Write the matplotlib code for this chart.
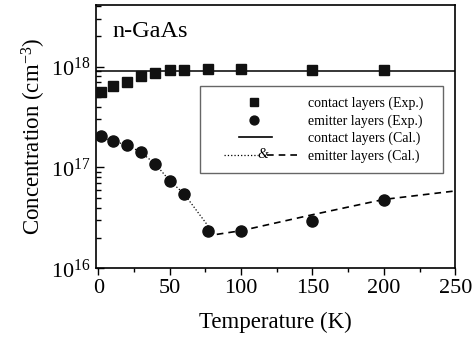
import matplotlib
matplotlib.use("Agg")
import matplotlib.pyplot as plt
from matplotlib.lines import Line2D
from matplotlib.text import Text
from matplotlib.legend_handler import HandlerBase
from matplotlib.ticker import MultipleLocator, LogLocator, NullFormatter

plt.rcParams['font.family'] = ['Liberation Serif', 'DejaVu Serif']
plt.rcParams['mathtext.fontset'] = 'custom'
plt.rcParams['mathtext.rm'] = 'Liberation Serif'
plt.rcParams['mathtext.it'] = 'Liberation Serif:italic'

# experimental points
temp_exp = [2, 10, 20, 30, 40, 50, 60, 77, 100, 150, 200]
contact_exp = [5.6e17, 6.4e17, 7.1e17, 8.1e17, 8.7e17, 9.2e17, 9.3e17, 9.4e17, 9.4e17, 9.2e17, 9.2e17]
emitter_exp = [2.03e17, 1.82e17, 1.68e17, 1.41e17, 1.08e17, 7.4e16, 5.5e16, 2.33e16, 2.35e16, 2.97e16, 4.75e16]

# calculated curves
contact_cal = 9.0e17
temp_dot = [2, 10, 20, 30, 40, 50, 60, 81]
emitter_dot = [2.03e17, 1.82e17, 1.68e17, 1.41e17, 1.08e17, 7.4e16, 5.5e16, 2.2e16]
temp_dash = [83, 100, 150, 200, 250]
emitter_dash = [2.17e16, 2.36e16, 3.4e16, 4.82e16, 5.85e16]


class ShortLine(HandlerBase):
    def create_artists(self, legend, orig, xd, yd, w, h, fs, trans):
        y = h / 2 - yd
        ln = Line2D([0.33 * w - xd, 0.71 * w - xd], [y, y], color='black', lw=1.2)
        ln.set_transform(trans)
        return [ln]


class DotAndDash(HandlerBase):
    def create_artists(self, legend, orig, xd, yd, w, h, fs, trans):
        y = h / 2 - yd
        a = Line2D([0.16 * w - xd, 0.54 * w - xd], [y, y], color='black', lw=0.9, ls=':')
        b = Line2D([0.645 * w - xd, w - xd], [y, y], color='black', lw=1.2, ls=(0, (4, 3)))
        t = Text(0.595 * w - xd, y, '&', ha='center', va='center', fontsize=fs,
                 family='Liberation Serif', style='italic')
        for art in (a, b, t):
            art.set_transform(trans)
        return [a, b, t]


fig = plt.figure(figsize=(4.72, 3.43), dpi=100)
ax = fig.add_axes([0.2034, 0.2178, 0.761, 0.768])
ax.set_yscale('log')

sq, = ax.plot(temp_exp, contact_exp, 's', color='#111111', ms=7.2, ls='none', zorder=4)
ci, = ax.plot(temp_exp, emitter_exp, 'o', color='#111111', ms=8, ls='none', zorder=4)
hl = ax.axhline(contact_cal, color='black', lw=1.1)
dl, = ax.plot(temp_dot, emitter_dot, ':', color='black', lw=0.9)
dsh, = ax.plot(temp_dash, emitter_dash, color='black', lw=1.2, ls=(0, (4, 3)))

ax.set_xlim(-1.6, 250)
ax.set_ylim(1e16, 4.1e18)

ax.xaxis.set_major_locator(MultipleLocator(50))
ax.xaxis.set_minor_locator(MultipleLocator(25))
ax.yaxis.set_major_locator(LogLocator(base=10, numticks=10))
ax.yaxis.set_minor_locator(LogLocator(base=10, subs=range(2, 10), numticks=20))
ax.yaxis.set_minor_formatter(NullFormatter())

ax.tick_params(axis='x', which='major', direction='out', length=5, width=1, labelsize=16, pad=3)
ax.tick_params(axis='x', which='minor', direction='out', length=3, width=1)
ax.tick_params(axis='y', which='major', direction='in', length=6, width=1, labelsize=16, pad=4)
ax.tick_params(axis='y', which='minor', direction='in', length=3.5, width=1)
for s in ax.spines.values():
    s.set_linewidth(1.2)

ax.set_xlabel('Temperature (K)', fontsize=16.5, labelpad=10)
ax.set_ylabel('Concentration (cm$^{-3}$)', fontsize=16.5, labelpad=2)
ax.text(0.045, 0.9, 'n-GaAs', transform=ax.transAxes, fontsize=17.5, va='center')

leg = ax.legend([sq, ci, hl, (dl, dsh)],
                ['contact layers (Exp.)', 'emitter layers (Exp.)',
                 'contact layers (Cal.)', 'emitter layers (Cal.)'],
                handler_map={hl: ShortLine(), (dl, dsh): DotAndDash()},
                loc='upper left', bbox_to_anchor=(0.29, 0.37, 0.677, 0.322),
                mode='expand', borderaxespad=0,
                fontsize=10, handlelength=6.26, handletextpad=0.72, labelspacing=0.3,
                borderpad=0.75, markerscale=0.8, fancybox=False, framealpha=1,
                edgecolor='#666666')
leg.get_frame().set_linewidth(1.0)

fig.savefig('out.png', dpi=100)
